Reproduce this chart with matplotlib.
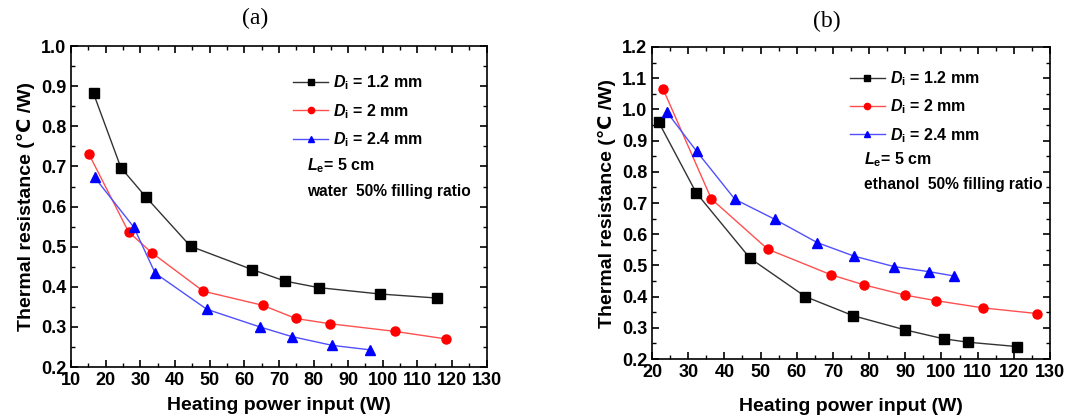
import matplotlib
matplotlib.use('Agg')
import matplotlib.pyplot as plt
from matplotlib.ticker import MultipleLocator

plt.rcParams['font.family'] = ['Liberation Sans', 'DejaVu Sans']
plt.rcParams['font.weight'] = 'bold'
plt.rcParams['mathtext.fontset'] = 'custom'
plt.rcParams['mathtext.rm'] = 'Liberation Sans:bold'
plt.rcParams['mathtext.it'] = 'Liberation Sans:italic:bold'
plt.rcParams['mathtext.bf'] = 'Liberation Sans:bold'

# panel (a): water
a_x_12 = [16.5, 24.4, 31.6, 44.5, 62.3, 71.9, 81.5, 99.3, 115.6]
a_y_12 = [0.882, 0.697, 0.624, 0.501, 0.443, 0.414, 0.398, 0.382, 0.372]
a_x_20 = [15.1, 26.6, 33.3, 48.2, 65.3, 74.9, 84.7, 103.4, 118.3]
a_y_20 = [0.732, 0.537, 0.485, 0.389, 0.354, 0.321, 0.308, 0.289, 0.270]
a_x_24 = [16.8, 28.1, 34.3, 49.2, 64.5, 73.7, 85.4, 96.2]
a_y_24 = [0.673, 0.549, 0.434, 0.344, 0.300, 0.276, 0.254, 0.243]

# panel (b): ethanol
b_x_12 = [21.8, 32.2, 47.1, 62.4, 75.6, 89.8, 100.6, 107.4, 121.0]
b_y_12 = [0.960, 0.733, 0.523, 0.400, 0.339, 0.294, 0.265, 0.254, 0.240]
b_x_20 = [23.1, 36.4, 52.0, 69.5, 78.5, 89.9, 98.6, 111.5, 126.3]
b_y_20 = [1.064, 0.713, 0.552, 0.470, 0.438, 0.405, 0.387, 0.364, 0.346]
b_x_24 = [24.2, 32.3, 42.9, 53.9, 65.7, 75.8, 87.0, 96.6, 103.6]
b_y_24 = [0.990, 0.866, 0.712, 0.648, 0.573, 0.530, 0.496, 0.480, 0.466]

labels = [r'$D_{\mathrm{i}}$ = 1.2 mm', r'$D_{\mathrm{i}}$ = 2 mm', r'$D_{\mathrm{i}}$ = 2.4 mm']
styles = [('#333333', 's', 'black'), ('#ff5050', 'o', 'red'), ('#5050ff', '^', 'blue')]

fig = plt.figure(figsize=(10.84, 4.19), dpi=100)
ax1 = fig.add_axes([0.0655, 0.124, 0.3835, 0.766])
ax2 = fig.add_axes([0.6015, 0.143, 0.3671, 0.745])


def draw(ax, series, xlim, ylim, note, legx, legy, notex, noty, xpad):
    handles = []
    for (x, y), lab, (lc, m, mc) in zip(series, labels, styles):
        ax.plot(x, y, color=lc, lw=1, zorder=2)
        ax.plot(x, y, ls='none', marker=m, ms=6.5, color=mc, zorder=3)
        h, = ax.plot([], [], color=lc, lw=1, marker=m, ms=4.5, mfc=mc, mec=mc, label=lab)
        handles.append(h)
    ax.set_xlim(*xlim)
    ax.set_ylim(*ylim)
    ax.xaxis.set_major_locator(MultipleLocator(10))
    ax.xaxis.set_minor_locator(MultipleLocator(5))
    ax.yaxis.set_major_locator(MultipleLocator(0.1))
    ax.yaxis.set_minor_locator(MultipleLocator(0.05))
    ax.tick_params(which='both', direction='in', top=True, right=True, labelsize=13)
    ax.tick_params(which='major', length=5, width=1.2)
    ax.tick_params(which='minor', length=3, width=1)
    for s in ax.spines.values():
        s.set_linewidth(1.2)
    ax.yaxis.set_major_formatter(plt.FormatStrFormatter('%.1f'))
    ax.set_xlabel('Heating power input (W)', fontsize=14, fontweight='bold', labelpad=xpad)
    ax.set_ylabel('Thermal resistance (\u2103 /W)', fontsize=14, fontweight='bold', labelpad=4)
    ax.legend(handles=handles, loc='upper left', bbox_to_anchor=(legx, legy), frameon=False,
              fontsize=11.5, handlelength=2.2, handletextpad=0.3, labelspacing=0.6,
              borderaxespad=0, borderpad=0)
    ax.text(notex, noty, r'$L_{\mathrm{e}}$= 5 cm', transform=ax.transAxes, fontsize=11.5,
            fontweight='bold', va='center')
    ax.text(notex, noty - 0.08, note, transform=ax.transAxes, fontsize=11.2,
            fontweight='bold', va='center')


draw(ax1, [(a_x_12, a_y_12), (a_x_20, a_y_20), (a_x_24, a_y_24)],
     (10, 130), (0.2, 1.0), 'water  50% filling ratio', 0.534, 0.914, 0.567, 0.627, 6)
draw(ax2, [(b_x_12, b_y_12), (b_x_20, b_y_20), (b_x_24, b_y_24)],
     (20, 130), (0.2, 1.2), 'ethanol  50% filling ratio', 0.497, 0.928, 0.533, 0.638, 12)

fig.text(255 / 1084, 1 - 18 / 419, '(a)', fontsize=17, family='Liberation Serif',
         fontweight='normal', ha='center', va='center')
fig.text(827 / 1084, 1 - 21 / 419, '(b)', fontsize=17, family='Liberation Serif',
         fontweight='normal', ha='center', va='center')

fig.savefig('out.png', dpi=100)
